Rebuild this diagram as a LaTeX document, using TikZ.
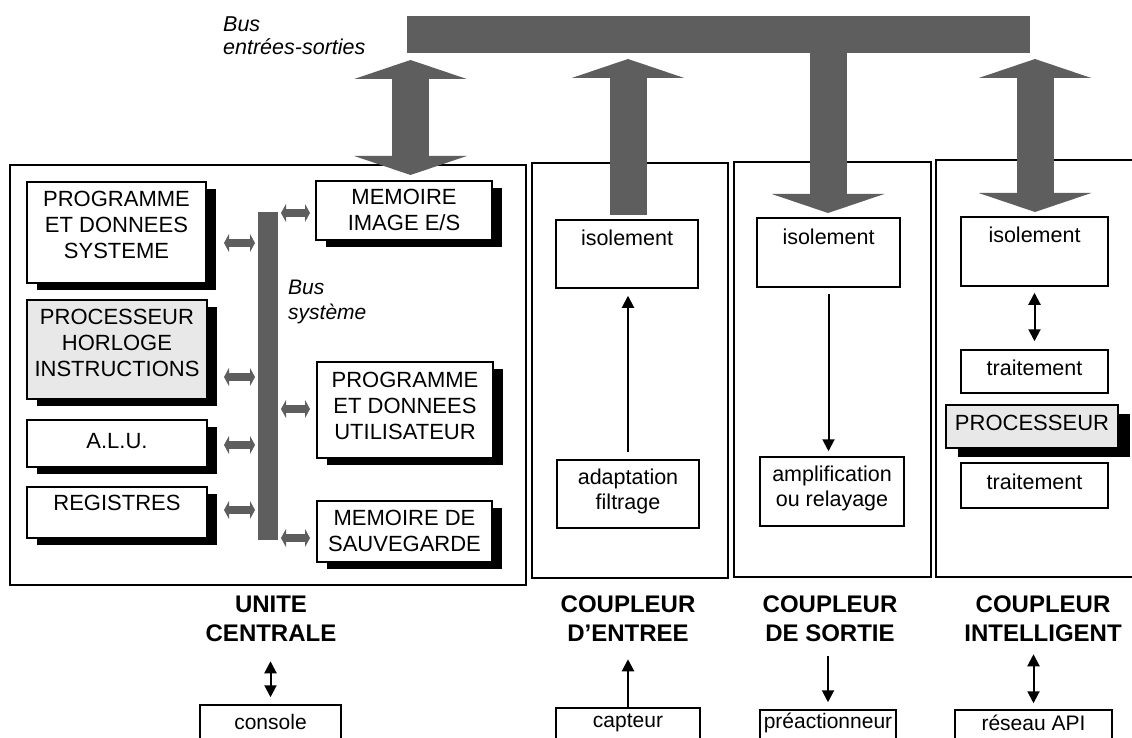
\documentclass[tikz,border=0pt]{standalone}
\usepackage{fontspec}
\setmainfont{Liberation Sans}
\usetikzlibrary{arrows.meta,shadows}
\tikzset{
  box/.style={draw, line width=1.5pt, fill=white, inner sep=0pt},
  sbox/.style={box, drop shadow={shadow xshift=10pt, shadow yshift=-7pt, fill=black, opacity=1}},
  txt/.style={font=\fontsize{22}{26}\selectfont, align=center, inner sep=0pt},
  ltxt/.style={font=\fontsize{21.5}{25}\selectfont, align=center, inner sep=0pt},
  stxt/.style={font=\fontsize{21}{24}\selectfont, align=center, inner sep=0pt},
  btxt/.style={font=\bfseries\fontsize{24}{29}\selectfont, align=center, inner sep=0pt},
  itxt/.style={font=\itshape\fontsize{21.5}{23}\selectfont, align=left, inner sep=0pt},
  busbar/.style={fill=black!63, draw=none, inner sep=0pt},
  bigarrow/.style={line width=37pt, draw=black!63, -{Triangle[width=112pt,length=19pt]}},
  bigdarrow/.style={line width=37pt, draw=black!63, {Triangle[width=112pt,length=19pt]}-{Triangle[width=112pt,length=19pt]}},
  smallarrow/.style={line width=8pt, draw=black!63, {Triangle[width=18pt,length=5pt]}-{Triangle[width=18pt,length=5pt]}},
  thinarrow/.style={line width=2pt, -{Triangle[width=12pt,length=12pt]}},
  thindarrow/.style={line width=2pt, {Triangle[width=12pt,length=12pt]}-{Triangle[width=12pt,length=12pt]}},
}
\begin{document}
\begin{tikzpicture}[x=1pt,y=-1pt]
\clip (0,0) rectangle (1132,738);
\fill[white] (0,0) rectangle (1132,738);

% frames
\draw[line width=1.5pt] (10,165) rectangle (526,585);
\draw[line width=1.5pt] (532,163) rectangle (728,578);
\draw[line width=1.5pt] (734,162) rectangle (931,577);
\draw[line width=1.5pt] (936,160) rectangle (1145,577);

% I/O bus
\node[busbar, minimum width=623, minimum height=37] (iobus) at (718.5,34.5) {};
\node[itxt, anchor=west] (iobuslbl) at (223,36) {Bus\\entrées-sorties};

% big arrows
\coordinate (ucTop) at (410.5,60);
\coordinate (ucBot) at (410.5,175);
\draw[bigdarrow] (ucTop) -- (ucBot);
\coordinate (inBot) at (628,215);
\coordinate (inTop) at (628,59);
\draw[bigarrow] (inBot) -- (inTop);
\coordinate (outTop) at (828,53);
\coordinate (outBot) at (828,213);
\draw[bigarrow] (outTop) -- (outBot);
\coordinate (itTop) at (1035,59);
\coordinate (itBot) at (1035,212);
\draw[bigdarrow] (itTop) -- (itBot);

% unite centrale boxes
\node[sbox, minimum width=179, minimum height=101] (progsys) at (116.5,232.5) {};
\node[txt] at (116.5,225) {PROGRAMME\\ET DONNEES\\SYSTEME};
\node[sbox, fill=black!9, minimum width=180, minimum height=99] (proc) at (117,349.5) {};
\node[txt] at (117,343) {PROCESSEUR\\HORLOGE\\INSTRUCTIONS};
\node[sbox, minimum width=180, minimum height=47] (alu) at (117,443.5) {};
\node[txt] at (117,441) {A.L.U.};
\node[sbox, minimum width=180, minimum height=51] (reg) at (117,512.5) {};
\node[txt] at (117,503) {REGISTRES};
\node[sbox, minimum width=176, minimum height=59] (memimg) at (404,210.5) {};
\node[txt] at (404,210) {MEMOIRE\\IMAGE E/S};
\node[sbox, minimum width=176, minimum height=96] (progutil) at (405,410) {};
\node[txt] at (405,406) {PROGRAMME\\ET DONNEES\\UTILISATEUR};
\node[sbox, minimum width=175, minimum height=61] (sauv) at (404.5,531.5) {};
\node[txt] at (404.5,531) {MEMOIRE DE\\SAUVEGARDE};

% system bus
\node[busbar, minimum width=20, minimum height=328] (sysbus) at (268,376) {};
\node[itxt, anchor=west, font=\itshape\fontsize{21}{25}\selectfont] (sysbuslbl) at (288,302) {Bus\\système};
\draw[smallarrow] (224,243) -- (255,243);
\draw[smallarrow] (224,377) -- (255,377);
\draw[smallarrow] (224,445) -- (255,445);
\draw[smallarrow] (224,510) -- (255,510);
\draw[smallarrow] (281,213) -- (310,213);
\draw[smallarrow] (281,409) -- (310,409);
\draw[smallarrow] (281,538) -- (310,538);

% coupleur d'entree
\node[box, minimum width=142, minimum height=68] (iso1) at (627,254) {};
\node[ltxt] at (627,238) {isolement};
\node[box, minimum width=142, minimum height=68] (adapt) at (628,494) {};
\node[ltxt] at (628,491) {adaptation\\filtrage};
\draw[thinarrow, shorten <=7pt, shorten >=7pt] (adapt.north) -- (adapt.north |- iso1.south);

% coupleur de sortie
\node[box, minimum width=143, minimum height=69] (iso2) at (828.5,252.5) {};
\node[ltxt] at (828.5,237) {isolement};
\node[box, minimum width=144, minimum height=69] (ampl) at (832,491.5) {};
\node[ltxt] at (832,488) {amplification\\ou relayage};
\draw[thinarrow, shorten <=6pt, shorten >=5pt] (iso2.south) -- (iso2.south |- ampl.north);

% coupleur intelligent
\node[box, minimum width=147, minimum height=69] (iso3) at (1034.5,251.5) {};
\node[ltxt] at (1034.5,235) {isolement};
\node[box, minimum width=147, minimum height=43] (trait1) at (1034.5,371.5) {};
\node[ltxt] at (1034.5,368) {traitement};
\node[box, fill=black!9, drop shadow={shadow xshift=12pt, shadow yshift=-9pt, fill=black, opacity=1}, minimum width=172, minimum height=43] (procI) at (1032,426.5) {};
\node[txt] at (1032,423) {PROCESSEUR};
\node[box, minimum width=147, minimum height=45] (trait2) at (1034.5,485.5) {};
\node[ltxt] at (1034.5,482) {traitement};
\draw[thindarrow, shorten <=6pt, shorten >=8pt] (iso3.south) -- (trait1.north);

% labels
\node[btxt] (lblUC) at (271,619) {UNITE\\CENTRALE};
\node[btxt] (lblIn) at (628,619) {COUPLEUR\\D’ENTREE};
\node[btxt] (lblOut) at (830,619) {COUPLEUR\\DE SORTIE};
\node[btxt] (lblInt) at (1043,619) {COUPLEUR\\INTELLIGENT};

% peripherals
\node[box, minimum width=141, minimum height=48] (console) at (270.5,729) {};
\node[stxt] at (270.5,722) {console};
\node[box, minimum width=144, minimum height=52] (capteur) at (628,734) {};
\node[stxt] at (628,723) {capteur};
\node[box, minimum width=136, minimum height=48] (preact) at (828,734) {};
\node[stxt] at (828,723) {préactionneur};
\node[box, minimum width=157, minimum height=48] (reseau) at (1033.5,734) {};
\node[stxt] at (1033.5,723) {réseau API};

\draw[thindarrow] ([yshift=7pt]console.north) -- ([yshift=43pt]console.north);
\draw[thinarrow] (capteur.north) -- ([yshift=48pt]capteur.north);
\draw[thinarrow] ([yshift=53pt]preact.north) -- ([yshift=7pt]preact.north);
\draw[thindarrow] ([yshift=6pt]reseau.north) -- ([yshift=55pt]reseau.north);
\end{tikzpicture}
\end{document}
